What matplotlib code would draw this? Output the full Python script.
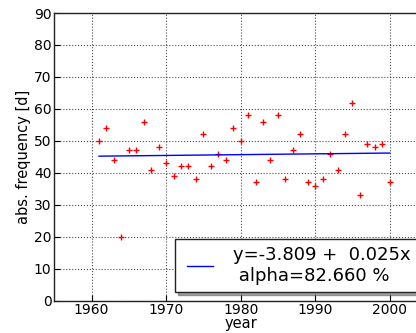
"""
연간 빈도 산점도 + 선형 회귀선
"""
import matplotlib
matplotlib.use('Agg')
import matplotlib.pyplot as plt
from matplotlib.legend_handler import HandlerLine2D
import numpy as np

plt.rcParams['font.family'] = 'DejaVu Sans'

# 데이터
years = list(range(1961, 2001))
freq = [50, 54, 44, 20, 47, 47, 56, 41, 48, 43,
        39, 42, 42, 38, 52, 42, 46, 44, 54, 50,
        58, 37, 56, 44, 58, 38, 47, 52, 37, 36,
        38, 46, 41, 52, 62, 33, 49, 48, 49, 37]

intercept = -3.809
slope = 0.025
alpha_pct = 82.660

x_ticks = [1960, 1970, 1980, 1990, 2000]
y_ticks = [0, 10, 20, 30, 40, 50, 60, 70, 80, 90]

fig = plt.figure(figsize=(4.16, 3.33), dpi=100)
ax = fig.add_axes([54.3 / 416, 32.3 / 333, 372.7 / 416, 287.7 / 333])

ax.plot(years, freq, '+', color='red', markersize=5, markeredgewidth=1)

yr = np.array([years[0], years[-1]])
label = f"y={intercept:.3f} +  {slope:.3f}x\n alpha={alpha_pct:.3f} %"
fit_line, = ax.plot(yr, intercept + slope * yr, color='blue', linewidth=1, label=label)

ax.set_xlim(1955, 2005)
ax.set_ylim(0, 90)
ax.set_xticks(x_ticks)
ax.set_yticks(y_ticks)
ax.grid(True, color='k', linestyle=':', linewidth=0.8, alpha=0.7)
ax.tick_params(direction='in', length=4, labelsize=10, pad=2)
for sp in ax.spines.values():
    sp.set_color('#222222')
    sp.set_linewidth(1.0)

ax.set_xlabel('year', fontsize=10.5, labelpad=-1)
ax.set_ylabel('abs. frequency [d]', fontsize=10.5, labelpad=2)

# 범례 (핸들 선을 오른쪽으로 조금 밀기)
leg = ax.legend(handler_map={fit_line: HandlerLine2D(xpad=0.28)},
                loc='lower left', bbox_to_anchor=(0.324, 0.031),
                fontsize=13, shadow=True, fancybox=False,
                handlelength=1.72, handletextpad=1.1, borderpad=0.4,
                borderaxespad=0)
leg.get_frame().set_edgecolor('#222222')
leg.get_frame().set_linewidth(1.0)

plt.savefig('out.png', dpi=100, facecolor='white')
plt.close()
